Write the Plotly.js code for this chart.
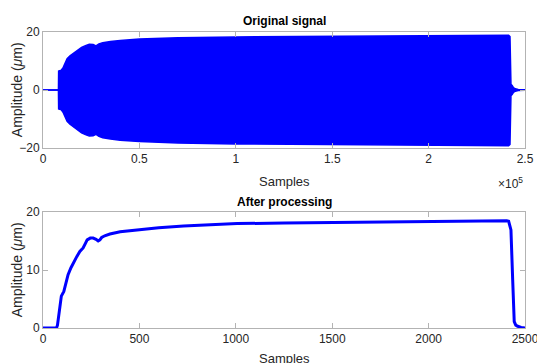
<!DOCTYPE html>
<html>
<head>
<meta charset="utf-8">
<script src="https://cdn.plot.ly/plotly-3.0.1.min.js"></script>
<style>html,body{margin:0;padding:0;background:#fff;}#chart{width:537px;height:363px;}</style>
</head>
<body>
<div id="chart"></div>
<script>
// Original signal envelope (samples, upper and lower amplitude in µm)
const envX = [0, 8000, 8100, 9500, 10500, 11500, 12500, 14000, 16000, 18000, 20000, 22000, 24000, 26000, 27500, 29000, 31000, 35000, 40000, 50000, 70000, 100000, 150000, 200000, 241500, 242200, 242700, 243300, 244000, 245000, 246500, 250000];
const envUpper = [0, 0, 6.5, 6.8, 7.8, 9.5, 10.8, 11.8, 12.8, 13.8, 14.7, 15.3, 15.8, 15.7, 15.2, 15.9, 16.3, 16.7, 17.1, 17.6, 18.0, 18.3, 18.6, 18.8, 18.9, 18.4, 2.0, 1.6, 0.8, 0.4, 0.2, 0.1];
const envLower = [0, 0, -6.5, -6.8, -7.8, -9.5, -10.8, -11.8, -12.8, -13.8, -14.8, -15.4, -15.9, -15.8, -15.3, -16.0, -16.5, -16.9, -17.3, -17.8, -18.3, -18.6, -18.9, -19.1, -19.2, -18.8, -2.0, -1.6, -0.8, -0.4, -0.2, -0.1];
const topTickVals = [0, 50000, 100000, 150000, 200000, 250000];
const topTickText = ['0', '0.5', '1', '1.5', '2', '2.5'];

// After processing (samples, amplitude in µm)
const procX = [0, 70, 75, 85, 95, 108, 118, 130, 145, 156, 175, 191, 208, 220, 229, 245, 260, 275, 286, 295, 304, 320, 347, 400, 500, 600, 729, 850, 1007, 1250, 1500, 1750, 2000, 2200, 2405, 2415, 2427, 2436, 2444, 2452, 2462, 2480, 2500];
const procY = [0, 0, 0.5, 3, 5.5, 6.3, 7.8, 9.2, 10.4, 11.2, 12.3, 13.2, 13.8, 14.6, 15.2, 15.5, 15.5, 15.3, 15.0, 15.2, 15.6, 15.9, 16.2, 16.6, 17.0, 17.3, 17.6, 17.8, 18.0, 18.1, 18.2, 18.3, 18.35, 18.4, 18.5, 18.4, 16.9, 8.3, 1.1, 0.5, 0.3, 0.1, 0];

const blue = '#0000ff';
const boxColor = '#b3b3b3';
const txt = '#262626';
const FONT = 'Liberation Sans, Arial, sans-serif';

const traces = [
  {x: envX, y: envUpper, type: 'scatter', mode: 'lines', line: {color: blue, width: 1.5}, xaxis: 'x', yaxis: 'y', hoverinfo: 'skip'},
  {x: envX, y: envLower, type: 'scatter', mode: 'lines', fill: 'tonexty', fillcolor: blue, line: {color: blue, width: 1.5}, xaxis: 'x', yaxis: 'y', hoverinfo: 'skip'},
  {x: procX, y: procY, type: 'scatter', mode: 'lines', line: {color: blue, width: 3}, xaxis: 'x2', yaxis: 'y2', hoverinfo: 'skip', cliponaxis: false}
];

const axCommon = {
  showline: true, linecolor: boxColor, linewidth: 1, mirror: 'ticks',
  ticks: 'inside', ticklen: 5, tickcolor: boxColor, tickwidth: 1,
  showgrid: false, zeroline: false, ticklabeloverflow: 'allow',
  tickfont: {family: FONT, size: 12, color: txt}
};

const layout = {
  width: 537, height: 363,
  margin: {l: 0, r: 0, t: 0, b: 0},
  paper_bgcolor: '#fff', plot_bgcolor: '#fff',
  showlegend: false,
  xaxis: Object.assign({}, axCommon, {domain: [0.0801, 0.9777], range: [0, 250000], tickvals: topTickVals, ticktext: topTickText, anchor: 'y'}),
  yaxis: Object.assign({}, axCommon, {domain: [0.5923, 0.9118], range: [-20, 20], tickvals: [-20, 0, 20], anchor: 'x'}),
  xaxis2: Object.assign({}, axCommon, {domain: [0.0801, 0.9777], range: [0, 2500], tickvals: [0, 500, 1000, 1500, 2000, 2500], anchor: 'y2'}),
  yaxis2: Object.assign({}, axCommon, {domain: [0.0964, 0.416], range: [0, 20], tickvals: [0, 10, 20], anchor: 'x2'}),
  annotations: [
    {text: '<b>Original signal</b>', xref: 'paper', yref: 'paper', x: 0.529, y: 0.942, showarrow: false, font: {family: FONT, size: 12, color: '#000'}, xanchor: 'center', yanchor: 'middle'},
    {text: 'Samples', xref: 'paper', yref: 'paper', x: 0.529, y: 0.501, showarrow: false, font: {family: FONT, size: 13, color: txt}, xanchor: 'center', yanchor: 'middle'},
    {text: '×10<sup>5</sup>', xref: 'paper', yref: 'paper', x: 0.978, y: 0.497, showarrow: false, font: {family: FONT, size: 12, color: txt}, xanchor: 'right', yanchor: 'middle'},
    {text: 'Amplitude (<i>μ</i>m)', xref: 'paper', yref: 'paper', x: 0.032, y: 0.752, showarrow: false, textangle: -90, font: {family: FONT, size: 14, color: txt}, xanchor: 'center', yanchor: 'middle'},
    {text: '<b>After processing</b>', xref: 'paper', yref: 'paper', x: 0.529, y: 0.4435, showarrow: false, font: {family: FONT, size: 12, color: '#000'}, xanchor: 'center', yanchor: 'middle'},
    {text: 'Samples', xref: 'paper', yref: 'paper', x: 0.529, y: 0.012, showarrow: false, font: {family: FONT, size: 13, color: txt}, xanchor: 'center', yanchor: 'middle'},
    {text: 'Amplitude (<i>μ</i>m)', xref: 'paper', yref: 'paper', x: 0.032, y: 0.256, showarrow: false, textangle: -90, font: {family: FONT, size: 14, color: txt}, xanchor: 'center', yanchor: 'middle'}
  ]
};

Plotly.newPlot('chart', traces, layout, {staticPlot: true, displayModeBar: false});
</script>
</body>
</html>
